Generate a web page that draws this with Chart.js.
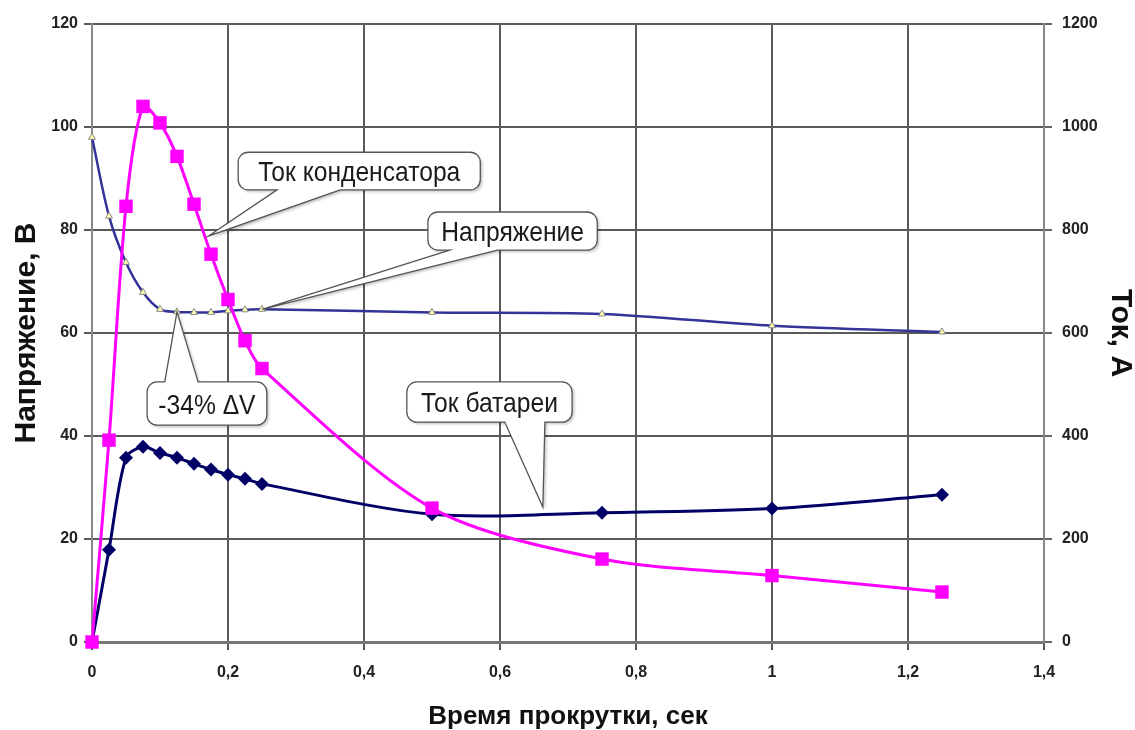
<!DOCTYPE html>
<html>
<head>
<meta charset="utf-8">
<script src="https://cdn.jsdelivr.net/npm/chart.js@4.4.1/dist/chart.umd.min.js"></script>
<style>
  html, body { margin: 0; padding: 0; background: #fff; }
  #wrap { width: 1135px; height: 730px; position: relative; }
</style>
</head>
<body>
<div id="wrap"><canvas id="chart"></canvas></div>
<script>
// Время прокрутки, сек
const timeSec = [0, 0.025, 0.05, 0.075, 0.1, 0.125, 0.15, 0.175, 0.2, 0.225, 0.25, 0.5, 0.75, 1.0, 1.25];
// Напряжение, В (левая ось)
const voltage = [98, 82.7, 73.7, 67.9, 64.6, 64.1, 64.0, 64.0, 64.3, 64.5, 64.6, 64.0, 63.7, 61.4, 60.2];
// Ток конденсатора, А (правая ось)
const capCurrent = [0, 392, 846, 1040, 1008, 943, 850, 753, 665, 585, 531, 260, 161, 129, 97];
// Ток батареи, А (правая ось)
const batCurrent = [0, 179, 358, 379, 367, 358, 346, 335, 325, 317, 307, 248, 251, 259, 286];

const xTicks = [0, 0.2, 0.4, 0.6, 0.8, 1.0, 1.2, 1.4];
const voltTicks = [0, 20, 40, 60, 80, 100, 120];
const ampTicks = [0, 200, 400, 600, 800, 1000, 1200];

// Выноски: рамка в единицах осей (x, левая ось), основание хвоста по x, острие
const callouts = [
  { text: 'Ток конденсатора', box: [0.215, 0.571, 95.1, 87.8], side: 'bottom', base: [0.272, 0.365],
    tip: { axis: 'y', x: 0.171, y: 78.8 } },
  { text: 'Напряжение', box: [0.494, 0.743, 83.5, 76.1], side: 'bottom', base: [0.526, 0.596],
    tip: { axis: 'y', x: timeSec[10], y: voltage[10] } },
  { text: '-34% \u0394V', box: [0.081, 0.257, 50.5, 42.1], side: 'top', base: [0.107, 0.156],
    tip: { axis: 'y', x: timeSec[5], y: voltage[5] } },
  { text: 'Ток батареи', box: [0.463, 0.706, 50.5, 42.7], side: 'bottom', base: [0.607, 0.666],
    tip: { axis: 'y1', x: 0.663, y: 262 } }
];

const toPoints = (xs, ys) => xs.map((x, i) => ({ x: x, y: ys[i] }));

// Рисует выноски поверх линий
const calloutPlugin = {
  id: 'callouts',
  afterDatasetsDraw(chart) {
    const { ctx, scales } = chart;
    const sx = scales.x, sy = scales.y;
    callouts.forEach(c => {
      const l = sx.getPixelForValue(c.box[0]);
      const r = sx.getPixelForValue(c.box[1]);
      const t = sy.getPixelForValue(c.box[2]);
      const b = sy.getPixelForValue(c.box[3]);
      const b0 = sx.getPixelForValue(c.base[0]);
      const b1 = sx.getPixelForValue(c.base[1]);
      const tx = sx.getPixelForValue(c.tip.x);
      const ty = scales[c.tip.axis].getPixelForValue(c.tip.y);
      const rad = 10;

      ctx.save();
      ctx.beginPath();
      ctx.moveTo(l + rad, t);
      if (c.side === 'top') {
        ctx.lineTo(b0, t);
        ctx.lineTo(tx, ty);
        ctx.lineTo(b1, t);
      }
      ctx.lineTo(r - rad, t);
      ctx.arcTo(r, t, r, t + rad, rad);
      ctx.lineTo(r, b - rad);
      ctx.arcTo(r, b, r - rad, b, rad);
      if (c.side === 'bottom') {
        ctx.lineTo(b1, b);
        ctx.lineTo(tx, ty);
        ctx.lineTo(b0, b);
      }
      ctx.lineTo(l + rad, b);
      ctx.arcTo(l, b, l, b - rad, rad);
      ctx.lineTo(l, t + rad);
      ctx.arcTo(l, t, l + rad, t, rad);
      ctx.closePath();

      ctx.shadowColor = 'rgba(0,0,0,0.25)';
      ctx.shadowOffsetX = 2;
      ctx.shadowOffsetY = 2;
      ctx.shadowBlur = 3;
      ctx.fillStyle = '#fff';
      ctx.fill();
      ctx.shadowColor = 'transparent';
      ctx.strokeStyle = '#555';
      ctx.lineWidth = 1.3;
      ctx.stroke();

      ctx.translate((l + r) / 2, (t + b) / 2 + 10);
      ctx.scale(0.88, 1);
      ctx.font = '28px "Liberation Sans", Arial, sans-serif';
      ctx.fillStyle = '#1a1a1a';
      ctx.textAlign = 'center';
      ctx.textBaseline = 'alphabetic';
      ctx.fillText(c.text, 0, 0);
      ctx.restore();
    });
  }
};

const tickFont = { family: '"Liberation Sans", Arial, sans-serif', size: 16, weight: 'bold' };
const titleFont = { family: '"Liberation Sans", Arial, sans-serif', weight: 'bold', lineHeight: 1 };

new Chart(document.getElementById('chart'), {
  type: 'line',
  data: {
    datasets: [
      {
        label: 'Ток конденсатора',
        data: toPoints(timeSec, capCurrent),
        yAxisID: 'y1',
        order: 0,
        clip: false,
        borderColor: '#ff00ff',
        backgroundColor: '#ff00ff',
        borderWidth: 3,
        pointStyle: 'rect',
        pointRadius: 9.5,
        pointBorderWidth: 0,
        tension: 0.3
      },
      {
        label: 'Ток батареи',
        data: toPoints(timeSec, batCurrent),
        yAxisID: 'y1',
        order: 1,
        clip: false,
        borderColor: '#000066',
        backgroundColor: '#000066',
        borderWidth: 3,
        pointStyle: 'rectRot',
        pointRadius: 7,
        pointBorderWidth: 0,
        tension: 0.3
      },
      {
        label: 'Напряжение',
        data: toPoints(timeSec, voltage),
        yAxisID: 'y',
        order: 2,
        clip: false,
        borderColor: '#333399',
        backgroundColor: '#ffffb0',
        borderWidth: 2.5,
        pointStyle: 'triangle',
        pointRadius: 4,
        pointBorderColor: '#888',
        pointBorderWidth: 1,
        tension: 0.3
      }
    ]
  },
  options: {
    responsive: true,
    maintainAspectRatio: false,
    animation: false,
    layout: { padding: { top: 24, left: 0, right: 0, bottom: 0 } },
    plugins: {
      legend: { display: false },
      tooltip: { enabled: false }
    },
    scales: {
      x: {
        type: 'linear',
        min: 0,
        max: 1.4,
        afterFit: s => { s.height = 88; },
        afterBuildTicks: s => { s.ticks = xTicks.map(v => ({ value: v })); },
        ticks: {
          font: tickFont,
          color: '#222',
          padding: 13,
          maxRotation: 0,
          callback: v => String(+Number(v).toFixed(1)).replace('.', ',')
        },
        grid: { color: '#5a5a5a', lineWidth: 2, tickLength: 8, tickColor: '#5a5a5a' },
        border: { color: '#777', width: 3 },
        title: {
          display: true,
          text: 'Время прокрутки, сек',
          color: '#111',
          font: Object.assign({ size: 26 }, titleFont),
          padding: { top: 0, bottom: 0 }
        }
      },
      y: {
        type: 'linear',
        position: 'left',
        min: 0,
        max: 120,
        afterFit: s => { s.width = 92; },
        afterBuildTicks: s => { s.ticks = voltTicks.map(v => ({ value: v })); },
        ticks: { font: tickFont, color: '#222', padding: 6, callback: v => String(v) },
        grid: { color: '#5a5a5a', lineWidth: 2, tickLength: 8, tickColor: '#5a5a5a' },
        border: { color: '#888', width: 2 },
        title: {
          display: true,
          text: 'Напряжение, В',
          color: '#111',
          font: Object.assign({ size: 30 }, titleFont),
          padding: { top: 12, bottom: 0 }
        }
      },
      y1: {
        type: 'linear',
        position: 'right',
        min: 0,
        max: 1200,
        afterFit: s => { s.width = 91; },
        afterBuildTicks: s => { s.ticks = ampTicks.map(v => ({ value: v })); },
        ticks: { font: tickFont, color: '#222', padding: 10, callback: v => String(v) },
        grid: { drawOnChartArea: false, tickLength: 8, tickColor: '#666', lineWidth: 2 },
        border: { color: '#888', width: 2 },
        title: {
          display: true,
          text: 'Ток, А',
          color: '#111',
          font: Object.assign({ size: 30 }, titleFont),
          padding: { top: 0, bottom: 0 }
        }
      }
    }
  },
  plugins: [calloutPlugin]
});
</script>
</body>
</html>
